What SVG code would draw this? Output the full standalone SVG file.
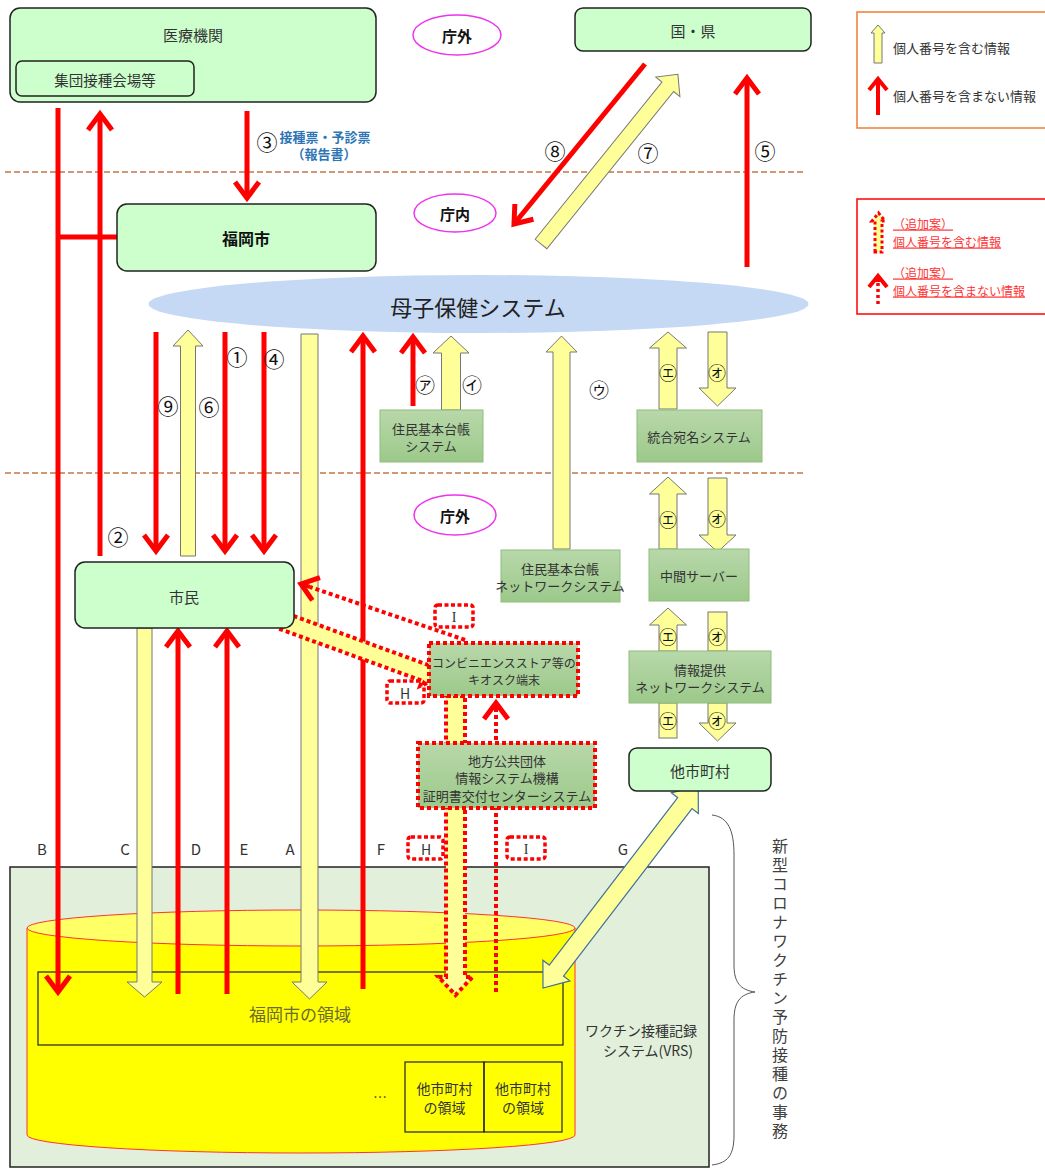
<svg xmlns="http://www.w3.org/2000/svg" width="1045" height="1169" viewBox="0 0 1045 1169">
<style>
.t{font-family:"Noto Sans CJK JP","Noto Sans",sans-serif;fill:#333;text-anchor:middle;dominant-baseline:central}
.nb{fill:#ccffcc;stroke:#222;stroke-width:1.5}
.gb{fill:url(#gg);stroke:#8fbc7f;stroke-width:1}
.gbd{fill:url(#gg);stroke:#ff0000;stroke-width:4;stroke-dasharray:4 3}
.ra{stroke:#ff0000;stroke-width:5;fill:none}
.ya{fill:#ffff99;stroke:#777;stroke-width:1}
.yad{fill:#ffff99;stroke:#ff0000;stroke-width:4;stroke-dasharray:4 3}
.dr{stroke:#ff0000;stroke-width:4;stroke-dasharray:4 3;fill:none}
.lb{fill:none;stroke:#ff0000;stroke-width:3.5;stroke-dasharray:4 2.5}
.ell{fill:#fff;stroke:#ee33ee;stroke-width:1.5}
.dash{stroke:#c0784a;stroke-width:1.5;stroke-dasharray:6 3}
.cn{font-family:"Noto Sans CJK JP",sans-serif;font-size:21px;fill:#111;text-anchor:middle;dominant-baseline:central}
.ck{font-family:"Noto Sans CJK JP",sans-serif;font-size:18px;fill:#111;text-anchor:middle;dominant-baseline:central}
.lg{font-family:"Noto Sans CJK JP",sans-serif;font-size:13px;fill:#333;dominant-baseline:central}
.lr{font-family:"Noto Sans CJK JP",sans-serif;font-size:12px;fill:#ff3333;text-decoration:underline;dominant-baseline:central}
</style>
<defs>
<linearGradient id="gg" x1="0" y1="0" x2="0" y2="1"><stop offset="0" stop-color="#b8d8aa"/><stop offset="1" stop-color="#9cc98a"/></linearGradient>
<marker id="rh" markerUnits="userSpaceOnUse" markerWidth="30" markerHeight="30" viewBox="-20 -15 30 30" refX="0" refY="0" orient="auto" overflow="visible"><path d="M-16,-12 L0,0 L-16,12" fill="none" stroke="#ff0000" stroke-width="5"/></marker>
<marker id="rhs" markerUnits="userSpaceOnUse" markerWidth="20" markerHeight="20" viewBox="-12 -10 20 20" refX="0" refY="0" orient="auto" overflow="visible"><path d="M-11,-9 L0,0 L-11,9" fill="none" stroke="#ff0000" stroke-width="4"/></marker>
</defs>
<rect width="1045" height="1169" fill="#fff"/>

<line class="dash" x1="5" y1="172" x2="806" y2="172"/>
<line class="dash" x1="5" y1="473" x2="806" y2="473"/>

<g id="vrs">
<rect x="10" y="867" width="699" height="300" fill="#e2efda" stroke="#222" stroke-width="1.5"/>
<path d="M27,928 V1135 A274,18 0 0 0 575,1135 V928 Z" fill="#ffff00" stroke="#ff3333" stroke-width="1"/>
<ellipse cx="301" cy="928" rx="274" ry="18" fill="#ffff66" stroke="#ff3333" stroke-width="1"/>
<rect x="38" y="972" width="525" height="73" fill="none" stroke="#222" stroke-width="1.2"/>
<text class="t" x="300" y="1013" style="font-size:17px;fill:#6b6b30">福岡市の領域</text>
<rect x="405" y="1062" width="79" height="70" fill="none" stroke="#222" stroke-width="1.2"/>
<rect x="484" y="1062" width="78" height="70" fill="none" stroke="#222" stroke-width="1.2"/>
<text class="t" x="444.5" y="1097" style="font-size:14px"><tspan x="444.5" dy="-9">他市町村</tspan><tspan x="444.5" dy="19">の領域</tspan></text>
<text class="t" x="523" y="1097" style="font-size:14px"><tspan x="523" dy="-9">他市町村</tspan><tspan x="523" dy="19">の領域</tspan></text>
<text class="t" x="380" y="1096" style="font-size:14px">…</text>
<text class="t" x="641" y="1040" style="font-size:14px"><tspan x="641" dy="-10">ワクチン接種記録</tspan><tspan x="648" dy="20">システム(VRS)</tspan></text>
</g>

<g id="brace">
<path d="M712,815 C728,817 734,830 734,855 V965 C734,982 740,990 755,992 C740,994 734,1002 734,1020 V1135 C734,1155 728,1163 712,1165" fill="none" stroke="#555" stroke-width="1"/>
<text x="780" y="838" style="font-family:'Noto Sans CJK JP',sans-serif;font-size:16px;fill:#404040;writing-mode:vertical-rl;letter-spacing:3px">新型コロナワクチン予防接種の事務</text>
</g>

<g id="letters" class="t" style="font-size:15px">
<text x="42" y="848">B</text><text x="125" y="848">C</text><text x="196" y="848">D</text><text x="244" y="848">E</text><text x="290" y="848">A</text><text x="381" y="848">F</text><text x="623" y="848">G</text>
</g>

<g id="connectors">
<path class="ra" d="M58,108 V992" marker-end="url(#rh)"/>
<path class="ra" d="M58,237 H117"/>
<path class="ra" d="M100,556 V114" marker-end="url(#rh)"/>
<path class="ra" d="M247,111 V198" marker-end="url(#rh)"/>
<path class="ra" d="M645,64 L514,224" marker-end="url(#rh)"/>
<polygon class="ya" transform="translate(541,244) rotate(-51.1)" points="0,-7.5 202,-7.5 202,-15.5 218,0 202,15.5 202,7.5 0,7.5"/>
<path class="ra" d="M747,267 V78" marker-end="url(#rh)"/>
<path class="ra" d="M156,332 V551" marker-end="url(#rh)"/>
<path class="ra" d="M225,332 V551" marker-end="url(#rh)"/>
<path class="ra" d="M264,332 V551" marker-end="url(#rh)"/>
<polygon class="ya" points="180.5,556 180.5,346 173,346 188,330 203,346 195.5,346 195.5,556"/>
<polygon class="ya" points="301,334 318,334 318,982 327,982 309.5,999 292,982 301,982"/>
<path class="ra" d="M363,989 V336" marker-end="url(#rh)"/>
<path class="ra" d="M413,406 V337" marker-end="url(#rh)"/>
<polygon class="ya" points="441.5,410 441.5,353 433,353 451,336 469,353 460.5,353 460.5,410"/>
<polygon class="ya" points="553,549 553,352 546,352 561.5,336 577,352 570,352 570,549"/>
<polygon class="ya" points="659,409 659,348 649.5,348 668,332 686.5,348 677,348 677,409"/>
<polygon class="ya" points="708,332 727,332 727,388 736,388 717.5,406 699,388 708,388"/>
<polygon class="ya" points="659,549 659,494 649.5,494 668,477 686.5,494 677,494 677,549"/>
<polygon class="ya" points="708,478 727,478 727,535 736,535 717.5,552 699,535 708,535"/>
<polygon class="ya" points="659,651 659,625 649.5,625 668,608 686.5,625 677,625 677,651"/>
<rect class="ya" x="708" y="612" width="19" height="39"/>
<rect class="ya" x="659" y="703" width="18" height="35"/>
<polygon class="ya" points="708,703 727,703 727,723 736,723 717.5,741 699,723 708,723"/>
<polygon class="ya" points="137,628 152,628 152,982 162,982 144.5,997 127,982 137,982"/>
<path class="ra" d="M178,994 V631" marker-end="url(#rh)"/>
<path class="ra" d="M227,994 V631" marker-end="url(#rh)"/>
<polygon transform="translate(543,988) rotate(-52.5)" points="0,0 22,-17 22,-9 233,-9 233,-17 255,0 233,17 233,9 22,9 22,17" fill="#ffff99" stroke="#41719c" stroke-width="1.2"/>
<polygon class="yad" points="446,696 465,696 465,977 472.5,977 455.5,995 438.5,977 446,977"/>
<path class="dr" d="M496,992 V712"/>
<path d="M496,712 V703" stroke="#ff0000" stroke-width="4" marker-end="url(#rh)"/>
<polygon class="yad" transform="translate(284,621.5) rotate(20)" points="0,-8.5 150,-8.5 150,-14 165,0 150,14 150,8.5 0,8.5"/>
<path class="dr" d="M465,640 L310,587"/>
<path d="M310,587 L301,584" stroke="#ff0000" stroke-width="4" marker-end="url(#rh)"/>
</g>

<g id="kiosk">
<rect class="gbd" x="429" y="643" width="149" height="53"/>
<text class="t" x="504" y="670" style="font-size:12px"><tspan x="504" dy="-8">コンビニエンスストア等の</tspan><tspan x="504" dy="17">キオスク端末</tspan></text>
</g>
<g id="jlis">
<rect class="gbd" x="418" y="743" width="177" height="65"/>
<text class="t" x="507" y="777" style="font-size:13px"><tspan x="507" dy="-17">地方公共団体</tspan><tspan x="507" dy="17">情報システム機構</tspan><tspan x="507" dy="18">証明書交付センターシステム</tspan></text>
</g>
<g id="labelI1"><rect class="lb" x="435" y="605" width="38" height="22" rx="3"/><text class="t" x="454" y="617" style="font-size:14px;font-family:'Liberation Serif',serif">I</text></g>
<g id="labelH1"><rect class="lb" x="387" y="681" width="37" height="22" rx="3"/><text class="t" x="405" y="693" style="font-size:14px">H</text></g>
<g id="labelH2"><rect class="lb" x="408" y="837" width="35" height="22" rx="3"/><text class="t" x="426" y="849" style="font-size:14px">H</text></g>
<g id="labelI2"><rect class="lb" x="507" y="837" width="38" height="22" rx="3"/><text class="t" x="526" y="849" style="font-size:14px;font-family:'Liberation Serif',serif">I</text></g>

<g id="iryo">
<rect class="nb" x="10" y="8" width="366" height="94" rx="10"/>
<text class="t" x="193" y="34" style="font-size:15px">医療機関</text>
<rect class="nb" x="16" y="61" width="178" height="35" rx="6"/>
<text class="t" x="105" y="79" style="font-size:14.5px">集団接種会場等</text>
</g>
<g id="chogai1"><ellipse class="ell" cx="457" cy="35" rx="44" ry="20"/><text class="t" x="457" y="35" style="font-size:15px;font-weight:bold;fill:#111">庁外</text></g>
<g id="kuniken"><rect class="nb" x="575" y="8" width="236" height="43" rx="8"/><text class="t" x="693" y="30" style="font-size:15px">国・県</text></g>
<g id="label3">
<text class="cn" x="267" y="141">③</text>
<text class="t" x="325" y="145" style="font-size:13px;font-weight:bold;fill:#2e75b6"><tspan x="325" dy="-9">接種票・予診票</tspan><tspan x="324" dy="17">（報告書）</tspan></text>
</g>
<g id="fukuoka"><rect class="nb" x="117" y="204" width="259" height="67" rx="10"/><text class="t" x="246" y="238" style="font-size:16px;font-weight:bold;fill:#111">福岡市</text></g>
<g id="chonai"><ellipse class="ell" cx="455" cy="213" rx="41" ry="19"/><text class="t" x="455" y="213" style="font-size:15px;font-weight:bold;fill:#111">庁内</text></g>
<g id="nums">
<text class="cn" x="555" y="150">⑧</text><text class="cn" x="648" y="152">⑦</text><text class="cn" x="765" y="150">⑤</text>
<text class="cn" x="168" y="405">⑨</text><text class="cn" x="209" y="406">⑥</text><text class="cn" x="237" y="356">①</text><text class="cn" x="274" y="358">④</text>
<text class="cn" x="118" y="536">②</text>
<text class="ck" x="425" y="384" style="font-size:20px">㋐</text><text class="ck" x="472" y="384" style="font-size:20px">㋑</text><text class="ck" x="599" y="389" style="font-size:20px">㋒</text>
<text class="ck" x="668" y="372">㋓</text><text class="ck" x="717" y="372">㋔</text>
<text class="ck" x="668" y="519">㋓</text><text class="ck" x="717" y="518">㋔</text>
<text class="ck" x="668" y="636">㋓</text><text class="ck" x="717" y="636">㋔</text>
<text class="ck" x="668" y="720">㋓</text><text class="ck" x="717" y="720">㋔</text>
</g>
<g id="boshi"><ellipse cx="478.5" cy="304" rx="330" ry="29" fill="#c5d9f5"/><text class="t" x="478" y="306" style="font-size:22px;fill:#222">母子保健システム</text></g>
<g id="juki"><rect class="gb" x="380" y="410" width="103" height="52"/><text class="t" x="431" y="436" style="font-size:13px"><tspan x="431" dy="-8">住民基本台帳</tspan><tspan x="431" dy="17">システム</tspan></text></g>
<g id="togo"><rect class="gb" x="637" y="410" width="125" height="52"/><text class="t" x="699" y="436" style="font-size:13px">統合宛名システム</text></g>
<g id="chogai2"><ellipse class="ell" cx="455" cy="515" rx="41" ry="20"/><text class="t" x="455" y="515" style="font-size:15px;font-weight:bold;fill:#111">庁外</text></g>
<g id="jukinet"><rect class="gb" x="501" y="550" width="119" height="52"/><text class="t" x="560" y="576" style="font-size:13px"><tspan x="560" dy="-8">住民基本台帳</tspan><tspan x="560" dy="17">ネットワークシステム</tspan></text></g>
<g id="chukan"><rect class="gb" x="649" y="549" width="100" height="52"/><text class="t" x="699" y="575" style="font-size:13px">中間サーバー</text></g>
<g id="joho"><rect class="gb" x="629" y="651" width="142" height="52"/><text class="t" x="700" y="677" style="font-size:13px"><tspan x="700" dy="-8">情報提供</tspan><tspan x="700" dy="17">ネットワークシステム</tspan></text></g>
<g id="tashi"><rect class="nb" x="629" y="748" width="142" height="43" rx="8"/><text class="t" x="700" y="770" style="font-size:15px">他市町村</text></g>
<g id="shimin"><rect class="nb" x="75" y="562" width="219" height="66" rx="10"/><text class="t" x="184" y="596" style="font-size:15px">市民</text></g>

<g id="legend1">
<rect x="857" y="12" width="200" height="116" fill="#fff" stroke="#ed7d31" stroke-width="1.5"/>
<polygon class="ya" points="874,63 874,33 871,33 878,25 885,33 882,33 882,63"/>
<text class="lg" x="893" y="47">個人番号を含む情報</text>
<path d="M878,115 V79" stroke="#ff0000" stroke-width="4" marker-end="url(#rhs)"/>
<text class="lg" x="893" y="95">個人番号を含まない情報</text>
</g>
<g id="legend2">
<rect x="857" y="199" width="200" height="115" fill="#fff" stroke="#ff0000" stroke-width="1.5"/>
<polygon points="875,252 875,221 872,221 878.5,213 885,221 882,221 882,252" fill="#ffff99" stroke="#ff0000" stroke-width="3" stroke-dasharray="3 2.5"/>
<text class="lr" x="893" y="223">（追加案）</text>
<text class="lr" x="893" y="241">個人番号を含む情報</text>
<path d="M878,304 V282" stroke="#ff0000" stroke-width="3.5" stroke-dasharray="3 3" fill="none"/>
<path d="M878,282 V276" stroke="#ff0000" stroke-width="4" marker-end="url(#rhs)"/>
<text class="lr" x="893" y="272">（追加案）</text>
<text class="lr" x="893" y="290">個人番号を含まない情報</text>
</g>
</svg>
